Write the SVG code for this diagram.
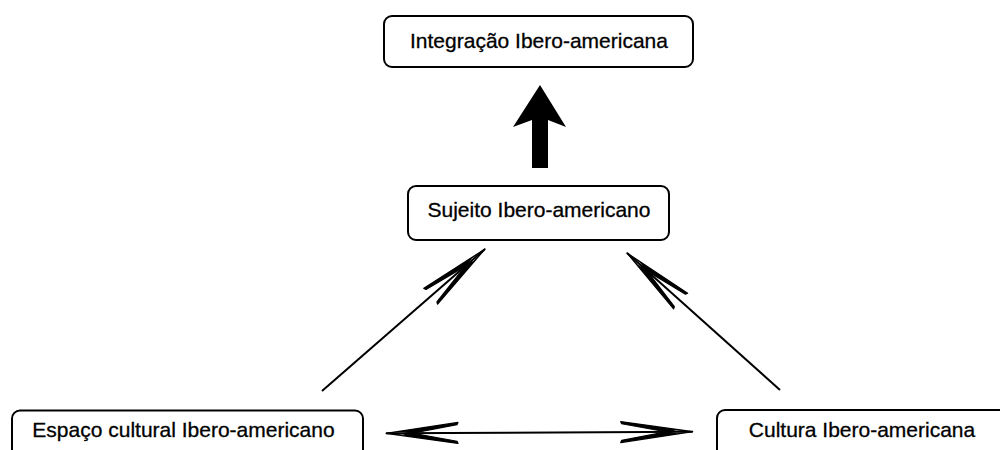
<svg xmlns="http://www.w3.org/2000/svg" width="1000" height="450" viewBox="0 0 1000 450">
<style>
.box{fill:#fff;stroke:#000;stroke-width:2}
.lbl{font-family:"Liberation Sans",Arial,sans-serif;font-size:21px;fill:#000;stroke:#000;stroke-width:0.3;text-anchor:middle}
.con{fill:none;stroke:#000;stroke-width:2}
</style>
<defs>
<marker id="open" markerUnits="userSpaceOnUse" orient="auto-start-reverse" refX="0" refY="0" markerWidth="80" markerHeight="30" overflow="visible">
<path d="M0,0 L-72,-10.5 L-71,-8.3 L-16,2 Z M0,0 L-72,10.5 L-71,8.3 L-16,-2 Z" fill="#000" stroke="#000" stroke-width="1.2" stroke-linejoin="round"/>
</marker>
</defs>
<rect width="1000" height="450" fill="#fff"/>
<g id="connectors">
<polygon points="540,85 566,127 548,120 548,168 532,168 532,120 513,127" fill="#000"/>
<line class="con" x1="322" y1="391" x2="485" y2="249" marker-end="url(#open)"/>
<line class="con" x1="780" y1="390" x2="627" y2="253" marker-end="url(#open)"/>
<line class="con" x1="386" y1="433.3" x2="692.7" y2="431.7" marker-start="url(#open)" marker-end="url(#open)"/>
</g>
<g id="integracao">
<rect class="box" x="384" y="16" width="309" height="51" rx="8"/>
<text class="lbl" x="539" y="48">Integração Ibero-americana</text>
</g>
<g id="sujeito">
<rect class="box" x="408" y="186" width="261" height="54" rx="8"/>
<text class="lbl" x="539" y="217">Sujeito Ibero-americano</text>
</g>
<g id="espaco">
<rect class="box" x="12" y="410.5" width="351" height="60" rx="8"/>
<text class="lbl" x="183.5" y="437">Espaço cultural Ibero-americano</text>
</g>
<g id="cultura">
<rect class="box" x="717" y="410" width="300" height="60" rx="8"/>
<text class="lbl" x="862" y="437">Cultura Ibero-americana</text>
</g>
</svg>
